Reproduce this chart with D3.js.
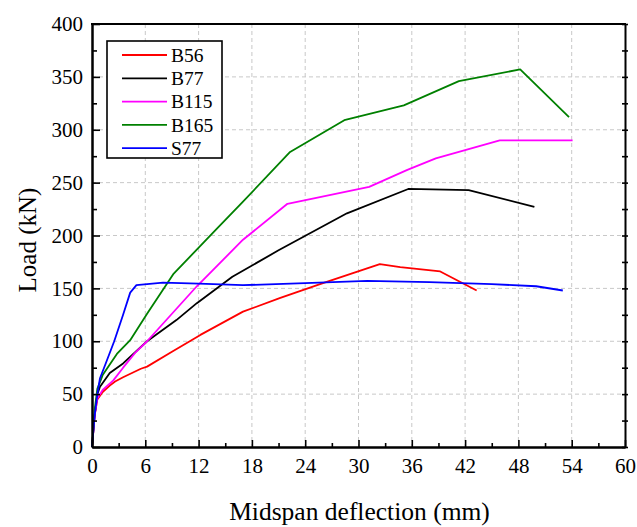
<!DOCTYPE html>
<html>
<head>
<meta charset="utf-8">
<script src="https://cdn.jsdelivr.net/npm/d3@7"></script>
<style>
  html, body { margin: 0; padding: 0; background: #fff; }
  svg { display: block; font-family: "Liberation Serif", "Times New Roman", serif; }
</style>
</head>
<body>
<svg id="chart" width="637" height="527"></svg>
<script>
// Load–deflection curves, [deflection mm, load kN]
const seriesNames = ["B56", "B77", "B115", "B165", "S77"];
const seriesColors = ["#ff0000", "#000000", "#ff00ff", "#008000", "#0000ff"];

const B56 = [[0,0],[0.3,30],[0.6,45],[1.2,52],[2,58],[2.6,62],[3.5,66],[4.5,70],[5.5,74],[6.2,76],
  [9,90],[12.2,106],[17,128],[21.2,141],[26,155],[32.4,173],[34.7,170],[39.2,166],[43.3,148]];
const B77 = [[0,0],[0.3,30],[0.6,50],[0.9,57],[2,70],[3.5,79],[6.2,100],[9.5,120],[11.8,136],
  [15.8,161],[21,186],[28.7,221],[35.6,244],[42.4,243],[49.8,227]];
const B115 = [[0,0],[0.3,30],[0.6,46],[1.2,54],[2.4,63],[3.5,75],[4.85,89],[6.2,100],[11.8,152],
  [17,196],[22,230],[31.2,246],[35.5,262],[38.7,273],[45.9,290],[54.1,290]];
const B165 = [[0,0],[0.3,35],[0.6,55],[1.2,68],[2,78],[2.8,88],[4.3,101],[6.2,126],[9.2,164],
  [13.9,205],[17,232],[22.3,279],[28.4,309],[35.1,323],[41.3,346],[48.2,357],[53.7,312]];
const S77 = [[0,0],[0.3,30],[0.6,50],[0.9,65],[1.5,78],[2.5,100],[3.5,125],[4.3,146],[5.0,153],
  [8,155.5],[12,154.5],[17,153],[24,155],[31,157],[38,156],[45,154],[50,152],[53,148]];

const seriesData = [B56, B77, B115, B165, S77];

const xTicks = [0, 6, 12, 18, 24, 30, 36, 42, 48, 54, 60];
const yTicks = [0, 50, 100, 150, 200, 250, 300, 350, 400];
const xMinor = d3.range(3, 60, 6);
const yMinor = d3.range(25, 400, 50);

const svg = d3.select("#chart");
const plotLeft = 92, plotRight = 625, plotTop = 24, plotBottom = 447;

const x = d3.scaleLinear().domain([0, 60]).range([plotLeft, plotRight]);
const y = d3.scaleLinear().domain([0, 400]).range([plotBottom, plotTop]);

// dashed grid
const grid = svg.append("g").attr("stroke", "#c8c8c8").attr("stroke-width", 1)
  .attr("stroke-dasharray", "4,3");
grid.selectAll("line.gx").data(xTicks.slice(1, -1)).join("line").attr("class", "gx")
  .attr("x1", d => x(d)).attr("x2", d => x(d)).attr("y1", plotTop).attr("y2", plotBottom);
grid.selectAll("line.gy").data(yTicks.slice(1, -1)).join("line").attr("class", "gy")
  .attr("x1", plotLeft).attr("x2", plotRight).attr("y1", d => y(d)).attr("y2", d => y(d));

// curves
const line = d3.line().x(d => x(d[0])).y(d => y(d[1]));
svg.append("g").selectAll("path").data(seriesData).join("path")
  .attr("d", line)
  .attr("fill", "none")
  .attr("stroke", (d, i) => seriesColors[i])
  .attr("stroke-width", 1.8)
  .attr("stroke-linejoin", "round");

// axes: ticks pointing inward
const fontSize = 21;
const xAxis = svg.append("g").attr("transform", `translate(0,${plotBottom})`)
  .call(d3.axisBottom(x).tickValues(xTicks).tickSizeInner(-7).tickSizeOuter(0).tickPadding(11));
const xMinorAxis = svg.append("g").attr("transform", `translate(0,${plotBottom})`)
  .call(d3.axisBottom(x).tickValues(xMinor).tickSizeInner(-4).tickSizeOuter(0).tickFormat(""));
const yAxis = svg.append("g").attr("transform", `translate(${plotLeft},0)`)
  .call(d3.axisLeft(y).tickValues(yTicks).tickSizeInner(-8).tickSizeOuter(0).tickPadding(9));
const yMinorAxis = svg.append("g").attr("transform", `translate(${plotLeft},0)`)
  .call(d3.axisLeft(y).tickValues(yMinor).tickSizeInner(-5).tickSizeOuter(0).tickFormat(""));
const rAxis = svg.append("g").attr("transform", `translate(${plotRight},0)`)
  .call(d3.axisRight(y).tickValues(yTicks.concat(yMinor)).tickSizeInner(3).tickSizeOuter(0).tickFormat(""));

[xAxis, xMinorAxis, yAxis, yMinorAxis, rAxis].forEach(g => {
  g.selectAll(".domain").attr("stroke", "#000").attr("stroke-width", 2);
  g.selectAll(".tick line").attr("stroke", "#000").attr("stroke-width", 1.6);
  g.selectAll("text").attr("font-family", "Liberation Serif, Times New Roman, serif")
    .attr("font-size", fontSize).attr("fill", "#000");
});
rAxis.selectAll(".tick line").attr("x1", -3);

// top border
svg.append("line").attr("x1", plotLeft - 1).attr("x2", plotRight + 1)
  .attr("y1", plotTop).attr("y2", plotTop)
  .attr("stroke", "#000").attr("stroke-width", 2);

// axis titles
svg.append("text").attr("x", (plotLeft + plotRight) / 2 + 1).attr("y", 520)
  .attr("text-anchor", "middle").attr("font-size", 25.5).text("Midspan deflection (mm)");
svg.append("text").attr("transform", "translate(36,240) rotate(-90)")
  .attr("text-anchor", "middle").attr("font-size", 25).text("Load (kN)");

// legend
const lg = svg.append("g");
lg.append("rect").attr("x", 107).attr("y", 41).attr("width", 115).attr("height", 117)
  .attr("fill", "#fff").attr("stroke", "#000").attr("stroke-width", 1.6);
const rows = lg.selectAll("g.row").data(seriesNames).join("g").attr("class", "row")
  .attr("transform", (d, i) => `translate(0,${55 + i * 23.3})`);
rows.append("line").attr("x1", 122).attr("x2", 167).attr("y1", 0).attr("y2", 0)
  .attr("stroke", (d, i) => seriesColors[i]).attr("stroke-width", 1.8);
rows.append("text").attr("x", 171).attr("y", 0).attr("dy", "0.35em")
  .attr("font-size", 19.5).text(d => d);
</script>
</body>
</html>
